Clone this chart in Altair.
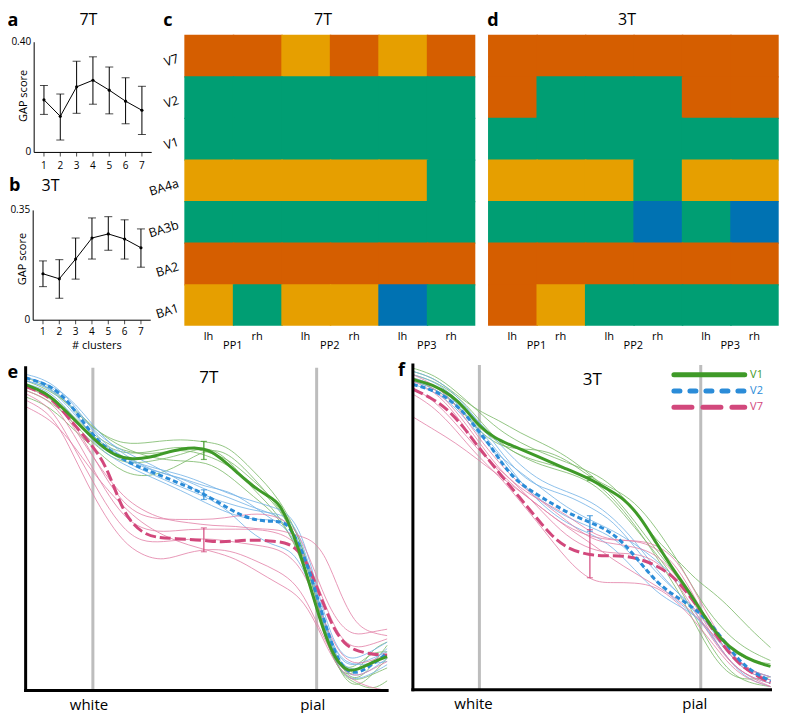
import altair as alt
import pandas as pd

# ------------------------------------------------------------------ data
CLUSTERS = [1, 2, 3, 4, 5, 6, 7]

GAP_7T_MEAN = [0.191, 0.131, 0.238, 0.262, 0.226, 0.186, 0.153]
GAP_7T_LO = [0.138, 0.045, 0.142, 0.175, 0.140, 0.104, 0.065]
GAP_7T_HI = [0.243, 0.212, 0.331, 0.347, 0.310, 0.271, 0.240]
GAP_7T_TICKS = [0, 0.40]
GAP_7T_TICK_LABELS = ["0", "0.40"]

GAP_3T_MEAN = [0.148, 0.132, 0.195, 0.262, 0.275, 0.259, 0.231]
GAP_3T_LO = [0.107, 0.070, 0.131, 0.195, 0.223, 0.195, 0.169]
GAP_3T_HI = [0.189, 0.193, 0.262, 0.326, 0.330, 0.320, 0.291]
GAP_3T_TICKS = [0, 0.35]
GAP_3T_TICK_LABELS = ["0", "0.35"]

AREAS = ["V7", "V2", "V1", "BA4a", "BA3b", "BA2", "BA1"]
HEMIS = ["lh", "rh", "lh", "rh", "lh", "rh"]
PARTICIPANTS = ["PP1", "PP2", "PP3"]
CLUSTER_IDS = [1, 2, 3, 4]
HEAT_7T = [
    [1, 1, 2, 1, 2, 1],
    [3, 3, 3, 3, 3, 3],
    [3, 3, 3, 3, 3, 3],
    [2, 2, 2, 2, 2, 3],
    [3, 3, 3, 3, 3, 3],
    [1, 1, 1, 1, 1, 1],
    [2, 3, 2, 2, 4, 3],
]
HEAT_3T = [
    [1, 1, 1, 1, 1, 1],
    [1, 3, 3, 3, 1, 1],
    [3, 3, 3, 3, 3, 3],
    [2, 2, 2, 3, 2, 2],
    [3, 3, 3, 4, 3, 4],
    [1, 1, 1, 1, 1, 1],
    [1, 2, 3, 3, 3, 3],
]

SERIES = ["V1", "V2", "V7"]
SURFACES = ["white", "pial"]
SURFACE_DEPTH = [18.6, 80.5]

# ---- 7T profiles (depth 0-100, normalised intensity 0-100)
E_V1_X = [0, 3.3, 6.9, 11.4, 15.9, 20.4, 24.9, 29.5, 34.0, 38.5, 43.0, 47.5, 50.5, 53.8,
          58.4, 62.9, 67.4, 70.1, 72.8, 75.5, 78.3, 81.0, 83.7, 86.4, 89.1, 91.8, 95.4, 100]
E_V1_Y = [94.8, 93.3, 91.3, 86.2, 81.2, 76.2, 72.6, 71.6, 72.1, 73.6, 74.9, 75.3, 74.6, 72.2,
          67.7, 63.1, 60.1, 58.1, 52.0, 44.0, 33.9, 23.6, 14.5, 8.5, 6.0, 6.4, 8.5, 10.5]
E_V2_X = [0, 3.3, 6.9, 11.4, 15.9, 20.4, 24.9, 29.5, 34.0, 38.5, 43.0, 47.5, 53.8, 58.4,
          62.9, 67.4, 71.0, 72.8, 75.5, 78.3, 81.0, 83.7, 86.4, 89.1, 92.7, 96.3, 100]
E_V2_Y = [96.9, 95.8, 94.3, 90.3, 83.2, 76.7, 73.1, 70.1, 68.1, 66.1, 64.0, 62.0, 58.0, 54.9,
          52.9, 52.4, 52.4, 50.9, 45.9, 37.8, 27.7, 17.6, 9.5, 5.5, 5.5, 8.5, 11.5]
E_V7_X = [0, 3.3, 6.9, 11.4, 15.9, 20.4, 23.1, 25.8, 28.5, 32.2, 35.8, 41.2, 49.3, 53.8,
          58.4, 62.9, 67.4, 71.9, 74.6, 77.3, 80.0, 82.8, 85.5, 88.2, 90.9, 94.5, 98.1, 100]
E_V7_Y = [94.3, 92.8, 90.8, 85.2, 79.2, 73.1, 67.1, 59.0, 52.9, 48.9, 47.4, 47.1, 46.6, 45.9,
          46.4, 46.7, 46.4, 45.9, 44.3, 40.8, 33.7, 25.6, 18.6, 14.5, 12.5, 11.5, 11.0, 11.0]
E_ERR_X = 49.3
E_ERR_LO = [71.6, 59.2, 43.0]
E_ERR_HI = [77.2, 62.2, 50.4]

E_THIN_V1_X = [0, 7, 14, 20, 27, 35, 43, 50, 56, 63, 70, 76, 80, 84, 88, 92, 96, 100]
E_THIN_V1 = [
    [97, 94, 86, 80, 76, 77, 78, 77, 76, 68, 60, 47, 32, 16, 5, 3, 8, 14],
    [95, 92, 84, 78, 74, 73, 75, 73, 70, 64, 57, 45, 30, 14, 3, 1, 5, 10],
    [93, 90, 82, 75, 70, 71, 73, 76, 72, 62, 55, 42, 27, 12, 4, 6, 13, 15],
    [91, 88, 80, 74, 67, 66, 70, 75, 74, 66, 57, 46, 30, 14, 6, 8, 12, 12],
    [96, 93, 87, 80, 75, 72, 71, 71, 67, 60, 54, 43, 28, 12, 4, 2, 0, 3],
    [94, 91, 84, 77, 73, 74, 76, 74, 72, 65, 58, 48, 30, 13, 4, 3, 5, 7],
]
E_THIN_V2_X = [0, 7, 14, 20, 27, 35, 43, 50, 56, 62, 68, 73, 77, 81, 85, 89, 94, 100]
E_THIN_V2 = [
    [98, 96, 88, 78, 72, 68, 66, 62, 60, 57, 55, 52, 42, 27, 12, 6, 7, 13],
    [97, 95, 86, 76, 71, 67, 63, 60, 56, 49, 45, 44, 38, 25, 12, 4, 5, 10],
    [96, 94, 87, 79, 74, 70, 65, 60, 58, 56, 55, 54, 45, 28, 13, 7, 9, 12],
    [95, 93, 84, 75, 70, 66, 62, 58, 55, 53, 53, 52, 43, 28, 13, 8, 8, 9],
    [97, 95, 89, 80, 73, 68, 66, 63, 62, 58, 53, 50, 40, 24, 10, 3, 4, 8],
    [96, 94, 85, 77, 72, 69, 67, 64, 61, 59, 57, 55, 47, 30, 15, 9, 11, 15],
]
E_THIN_V7_X = [0, 7, 12, 17, 22, 27, 32, 38, 45, 52, 58, 64, 70, 75, 79, 83, 87, 91, 95, 100]
E_THIN_V7 = [
    [95, 92, 85, 76, 66, 58, 54, 53, 53, 53, 54, 55, 54, 50, 40, 28, 20, 17, 18, 19],
    [93, 90, 82, 72, 62, 54, 50, 49, 50, 50, 50, 50, 49, 46, 38, 26, 16, 13, 14, 16],
    [92, 88, 78, 68, 58, 50, 46, 46, 47, 47, 46, 45, 44, 40, 32, 20, 11, 8, 9, 11],
    [90, 86, 76, 64, 54, 46, 42, 40, 43, 44, 43, 40, 37, 33, 25, 15, 7, 4, 6, 9],
    [88, 84, 78, 70, 63, 57, 52, 48, 45, 43, 41, 37, 33, 30, 24, 14, 6, 3, 1, 0],
    [94, 91, 84, 75, 67, 60, 56, 53, 52, 51, 51, 50, 50, 48, 47, 42, 30, 21, 18, 17],
]

# ---- 3T profiles
F_V1_X = [0, 5.5, 11.0, 14.6, 18.3, 22.8, 28.3, 34.7, 42.0, 49.5, 54.8, 58.9, 63.5, 68.0,
          72.6, 77.2, 81.7, 86.3, 90.9, 95.4, 100]
F_V1_Y = [95.5, 94.0, 90.5, 86.5, 81.4, 77.4, 74.9, 71.9, 68.4, 65.0, 61.5, 59.0, 53.4, 45.3,
          37.3, 30.3, 22.3, 15.2, 11.2, 8.7, 7.2]
F_V2_X = [0, 5.0, 9.6, 14.2, 17.8, 21.5, 25.1, 28.8, 34.2, 38.8, 43.4, 49.8, 54.3, 58.9,
          63.5, 68.0, 72.6, 77.2, 81.7, 86.3, 90.9, 95.4, 100]
F_V2_Y = [94.0, 92.5, 90.0, 85.5, 80.4, 75.4, 69.4, 64.4, 60.4, 57.4, 54.4, 51.4, 49.3, 45.3,
          39.3, 33.3, 29.3, 26.3, 22.3, 16.2, 9.2, 5.2, 2.7]
F_V7_X = [0, 5.0, 9.6, 14.2, 17.8, 21.5, 25.1, 29.7, 34.2, 38.8, 43.4, 49.8, 54.3, 58.9,
          63.5, 68.0, 72.6, 77.2, 81.7, 86.3, 90.9, 95.4, 100]
F_V7_Y = [92.5, 90.0, 86.5, 80.9, 75.4, 70.4, 65.4, 59.4, 53.4, 47.3, 43.3, 41.3, 41.3, 41.3,
          40.3, 38.3, 35.3, 29.3, 22.3, 14.2, 8.2, 4.7, 2.2]
F_ERR_X = 49.5
F_ERR_LO = [64.4, 48.8, 34.5]
F_ERR_HI = [65.6, 53.6, 49.3]

F_THIN_X = [0, 6, 12, 18, 24, 30, 36, 43, 50, 56, 62, 68, 74, 79, 84, 89, 94, 100]
F_THIN_V1 = [
    [99, 97, 92, 86, 80, 76, 73, 70, 67, 63, 55, 46, 40, 34, 30, 25, 19, 13],
    [98, 96, 91, 86, 83, 79, 76, 72, 66, 60, 52, 43, 35, 26, 18, 12, 9, 8],
    [97, 95, 91, 84, 76, 72, 69, 67, 64, 58, 50, 42, 33, 22, 12, 5, 2, 1],
    [96, 94, 88, 80, 75, 74, 74, 71, 65, 62, 58, 50, 40, 30, 22, 16, 12, 9],
    [95, 93, 88, 81, 76, 72, 70, 68, 65, 59, 51, 41, 31, 20, 10, 4, 3, 4],
]
F_THIN_V2 = [
    [98, 96, 91, 83, 74, 66, 62, 60, 56, 52, 44, 36, 30, 25, 18, 10, 5, 3],
    [96, 94, 89, 80, 71, 64, 58, 53, 50, 47, 41, 33, 27, 23, 16, 8, 4, 2],
    [94, 92, 87, 79, 72, 67, 62, 56, 52, 49, 45, 40, 34, 27, 19, 11, 6, 4],
    [95, 93, 88, 81, 73, 64, 57, 51, 48, 44, 37, 30, 26, 23, 17, 10, 6, 4],
    [97, 95, 90, 83, 76, 69, 64, 61, 58, 53, 46, 37, 30, 24, 16, 8, 3, 1],
]
F_THIN_V7 = [
    [97, 94, 88, 78, 70, 63, 58, 52, 46, 45, 44, 42, 35, 26, 16, 8, 4, 2],
    [95, 92, 85, 75, 67, 61, 56, 50, 47, 46, 46, 44, 38, 28, 18, 10, 5, 3],
    [93, 89, 82, 74, 68, 62, 55, 47, 43, 42, 42, 40, 33, 24, 15, 8, 4, 1],
    [91, 87, 80, 72, 66, 58, 50, 40, 33, 33, 33, 32, 27, 21, 14, 7, 3, 1],
    [84, 80, 76, 71, 66, 61, 56, 50, 45, 40, 36, 32, 28, 23, 17, 11, 6, 3],
    [96, 93, 86, 77, 68, 62, 58, 54, 48, 46, 46, 45, 40, 30, 20, 11, 6, 4],
]

# ------------------------------------------------------------------ style / layout
W, H = 771, 705
SX = W / 787
SY = H / 721
FONT = "Open Sans"
CLUSTER_COLORS = ["#D55E00", "#E69F00", "#009E73", "#0072B2"]
MAIN = {"V1": "#3F9A28", "V2": "#2B8CD8", "V7": "#D2487C"}
THIN = {"V1": "#79B866", "V2": "#72B1E6", "V7": "#E27FA6"}
DASH = {"V1": None, "V2": [5, 3], "V7": [11, 4]}
LEG_DASH = {"V1": None, "V2": [6, 10], "V7": [18, 11]}


def px(v):
    return v * SX


def py(v):
    return v * SY


class Panel:
    def __init__(self, xdom, xref, ydom, yref):
        self.xdom, self.ydom = xdom, ydom
        self.xs = alt.Scale(domain=xdom, range=[px(xref[0]), px(xref[1])], nice=False, zero=False)
        self.ys = alt.Scale(domain=ydom, range=[py(yref[0]), py(yref[1])], nice=False, zero=False)

    def X(self, f):
        return alt.X(f, type="quantitative", scale=self.xs, axis=None)

    def Y(self, f):
        return alt.Y(f, type="quantitative", scale=self.ys, axis=None)

    def XD(self, v):
        return alt.XDatum(v, type="quantitative", scale=self.xs, axis=None)

    def YD(self, v):
        return alt.YDatum(v, type="quantitative", scale=self.ys, axis=None)


def annot(P, text, xv, yv, xoff=0, yoff=0, **style):
    return alt.Chart(pd.DataFrame({"t": [text]})).mark_text(
        font=FONT, baseline="middle", xOffset=xoff * SX, yOffset=yoff * SY, **style
    ).encode(x=P.XD(xv), y=P.YD(yv), text="t:N")


def one_row():
    return alt.Chart(pd.DataFrame({"v": [0]}))


# ------------------------------------------------------------------ GAP panels
def gap_panel(P, mean, lo, hi, ticks, tick_labels, letter, letter_off, title, title_x,
              title_off, gap_y, tick_dy, xtitle_dy=None):
    x0, x1 = P.xdom
    d = pd.DataFrame({"k": CLUSTERS, "m": mean, "lo": lo, "hi": hi})
    base = alt.Chart(d)
    L = [
        base.mark_rule(color="black", strokeWidth=1).encode(x=P.X("k"), y=P.Y("lo"), y2=alt.Y2("hi")),
        base.mark_tick(orient="horizontal", size=8, thickness=1, color="black").encode(x=P.X("k"), y=P.Y("lo")),
        base.mark_tick(orient="horizontal", size=8, thickness=1, color="black").encode(x=P.X("k"), y=P.Y("hi")),
        base.mark_line(color="black", strokeWidth=1).encode(x=P.X("k"), y=P.Y("m")),
        base.mark_circle(color="black", size=10, opacity=1).encode(x=P.X("k"), y=P.Y("m")),
        one_row().mark_rule(color="black", strokeWidth=1).encode(
            x=P.XD(x0), y=P.YD(0), y2=alt.Y2Datum(ticks[-1])),
        one_row().mark_rule(color="black", strokeWidth=1).encode(
            x=P.XD(x0), x2=alt.X2Datum(x1), y=P.YD(0)),
        base.mark_tick(orient="vertical", size=4, thickness=1, color="black", yOffset=2).encode(
            x=P.X("k"), y=P.YD(0)),
        base.mark_text(font=FONT, fontSize=10, baseline="middle", yOffset=tick_dy * SY).encode(
            x=P.X("k"), y=P.YD(0), text="k:Q"),
        alt.Chart(pd.DataFrame({"v": ticks, "t": tick_labels})).mark_text(
            font=FONT, fontSize=10, align="right", baseline="middle", xOffset=-3).encode(
            x=P.XD(x0), y=P.Y("v"), text="t:N"),
        annot(P, "GAP score", x0, gap_y, xoff=-10, fontSize=11, angle=270),
        annot(P, letter, x0, ticks[-1], letter_off[0], letter_off[1], fontSize=18, fontWeight="bold"),
        annot(P, title, title_x, ticks[-1], 0, title_off, fontSize=16),
    ]
    if xtitle_dy is not None:
        L.append(annot(P, "# clusters", 4.3, 0, 0, xtitle_dy, fontSize=11))
    return alt.layer(*L)


PA = Panel([0.4, 7.6], (26.7, 146.7), [0, 0.40], (147.7, 35))
PB = Panel([0.4, 7.6], (25.7, 145.7), [0, 0.35], (319.3, 207))
panel_a = gap_panel(PA, GAP_7T_MEAN, GAP_7T_LO, GAP_7T_HI, GAP_7T_TICKS, GAP_7T_TICK_LABELS,
                    "a", (-21.7, -21.2), "7T", 3.72, -22.5, 0.205, 13.5)
panel_b = gap_panel(PB, GAP_3T_MEAN, GAP_3T_LO, GAP_3T_HI, GAP_3T_TICKS, GAP_3T_TICK_LABELS,
                    "b", (-19, -25.3), "3T", 1.46, -25.3, 0.195, 12, xtitle_dy=26.5)


# ------------------------------------------------------------------ heatmaps
def heat_panel(P, grid, letter, letter_off, title, title_x, title_off, show_rows):
    ncol, nrow = len(grid[0]), len(grid)
    cells = pd.DataFrame([{"ci": c, "ri": r, "cl": v}
                          for r, row in enumerate(grid) for c, v in enumerate(row)])
    cscale = alt.Scale(domain=CLUSTER_IDS, range=CLUSTER_COLORS)
    L = [
        # each cell reaches slightly into the next (later drawn) cell to avoid seams
        alt.Chart(cells).transform_calculate(
            ci1=f"min(datum.ci + 1.03, {ncol})", ri1=f"min(datum.ri + 1.03, {nrow})")
        .mark_rect(strokeWidth=0).encode(
            x=P.X("ci"), x2=alt.X2("ci1"), y=P.Y("ri"), y2=alt.Y2("ri1"),
            color=alt.Color("cl:N", scale=cscale, legend=None)),
        alt.Chart(pd.DataFrame({"h": HEMIS, "c": list(range(len(HEMIS)))}))
        .transform_calculate(xc="datum.c + 0.5")
        .mark_text(font=FONT, fontSize=11, baseline="middle", yOffset=11.5 * SY)
        .encode(x=P.X("xc"), y=P.YD(7), text="h:N"),
        alt.Chart(pd.DataFrame({"p": PARTICIPANTS, "i": list(range(len(PARTICIPANTS)))}))
        .transform_calculate(xc="2 * datum.i + 1")
        .mark_text(font=FONT, fontSize=11, baseline="middle", yOffset=20.5 * SY)
        .encode(x=P.X("xc"), y=P.YD(7), text="p:N"),
        annot(P, letter, 0, 0, letter_off[0], letter_off[1], fontSize=18, fontWeight="bold"),
        annot(P, title, title_x, 0, 0, title_off, fontSize=16),
    ]
    if show_rows:
        L.append(
            alt.Chart(pd.DataFrame({"a": AREAS, "r": list(range(len(AREAS)))}))
            .transform_calculate(yc="datum.r + 0.5")
            .mark_text(font=FONT, fontSize=12.5, align="right", baseline="middle", angle=343,
                       xOffset=-6 * SX, yOffset=3 * SY)
            .encode(x=P.XD(0), y=P.Y("yc"), text="a:N"))
    return alt.layer(*L)


PC = Panel([0, 6], (180, 477), [0, 7], (27.3, 325))
PD = Panel([0, 6], (490, 786.7), [0, 7], (27.3, 325))
panel_c = heat_panel(PC, HEAT_7T, "c", (-16.7, -13.8), "7T", 2.86, -15.2, True)
panel_d = heat_panel(PD, HEAT_3T, "d", (5, -13.8), "3T", 2.87, -15.2, False)


# ------------------------------------------------------------------ profiles
def traces_df(grid, traces):
    rows = []
    for i, ys in enumerate(traces):
        for x, y in zip(grid, ys):
            rows.append({"x": x, "y": y, "trace": i})
    return pd.DataFrame(rows)


def profile_panel(P, thin, means, err_x, err_lo, err_hi, letter, letter_off, title, title_x,
                  title_off, surf_xoff, legend=False):
    surf = pd.DataFrame({"name": SURFACES, "d": SURFACE_DEPTH})
    L = [alt.Chart(surf).mark_rule(color="#BDBDBD", strokeWidth=3).encode(
        x=P.X("d"), y=P.YD(0), y2=alt.Y2Datum(100))]
    for s in SERIES:
        grid, traces = thin[s]
        L.append(alt.Chart(traces_df(grid, traces)).mark_line(
            color=THIN[s], strokeWidth=1, opacity=0.8, interpolate="basis").encode(
            x=P.X("x"), y=P.Y("y"), detail="trace:N"))
    for s in reversed(SERIES):
        xs, ys = means[s]
        kw = {"strokeDash": DASH[s]} if DASH[s] else {}
        L.append(alt.Chart(pd.DataFrame({"x": xs, "y": ys})).mark_line(
            color=MAIN[s], strokeWidth=3, interpolate="basis", **kw).encode(
            x=P.X("x"), y=P.Y("y")))
    err = pd.DataFrame({"s": SERIES, "lo": err_lo, "hi": err_hi})
    escale = alt.Scale(domain=SERIES, range=[MAIN[s] for s in SERIES])
    L += [
        alt.Chart(err).mark_rule(strokeWidth=1.2).encode(
            x=P.XD(err_x), y=P.Y("lo"), y2=alt.Y2("hi"),
            color=alt.Color("s:N", scale=escale, legend=None)),
        alt.Chart(err).mark_tick(orient="horizontal", size=6, thickness=1.2).encode(
            x=P.XD(err_x), y=P.Y("lo"), color=alt.Color("s:N", scale=escale, legend=None)),
        alt.Chart(err).mark_tick(orient="horizontal", size=6, thickness=1.2).encode(
            x=P.XD(err_x), y=P.Y("hi"), color=alt.Color("s:N", scale=escale, legend=None)),
        one_row().mark_rule(color="black", strokeWidth=3, strokeCap="square").encode(
            x=P.XD(0), y=P.YD(0), y2=alt.Y2Datum(100)),
        one_row().mark_rule(color="black", strokeWidth=3, strokeCap="square").encode(
            x=P.XD(0), x2=alt.X2Datum(100), y=P.YD(0)),
        alt.Chart(surf).mark_text(font=FONT, fontSize=15, baseline="middle",
                                  xOffset=surf_xoff * SX, yOffset=14.5 * SY).encode(
            x=P.X("d"), y=P.YD(0), text="name:N"),
        annot(P, letter, 0, 100, letter_off[0], letter_off[1], fontSize=18, fontWeight="bold"),
        annot(P, title, title_x, 100, 0, title_off, fontSize=17),
    ]
    if legend:
        for i, s in enumerate(SERIES):
            ly = 97 - 5 * i
            kw = {"strokeDash": LEG_DASH[s]} if LEG_DASH[s] else {}
            L.append(one_row().mark_rule(color=MAIN[s], strokeWidth=5, strokeCap="round", **kw)
                     .encode(x=P.XD(73.0), x2=alt.X2Datum(92.8), y=P.YD(ly)))
            L.append(annot(P, s, 94.3, ly, fontSize=11, align="left", color=MAIN[s]))
    return alt.layer(*L)


PE = Panel([0, 100], (18, 387), [0, 100], (698, 368))
PF = Panel([0, 100], (413.3, 778.3), [0, 100], (697.3, 365))

panel_e = profile_panel(
    PE,
    {"V1": (E_THIN_V1_X, E_THIN_V1), "V2": (E_THIN_V2_X, E_THIN_V2), "V7": (E_THIN_V7_X, E_THIN_V7)},
    {"V1": (E_V1_X, E_V1_Y), "V2": (E_V2_X, E_V2_Y), "V7": (E_V7_X, E_V7_Y)},
    E_ERR_X, E_ERR_LO, E_ERR_HI, "e", (-13, 5), "7T", 50.7, 10, -4)
panel_f = profile_panel(
    PF,
    {"V1": (F_THIN_X, F_THIN_V1), "V2": (F_THIN_X, F_THIN_V2), "V7": (F_THIN_X, F_THIN_V7)},
    {"V1": (F_V1_X, F_V1_Y), "V2": (F_V2_X, F_V2_Y), "V7": (F_V7_X, F_V7_Y)},
    F_ERR_X, F_ERR_LO, F_ERR_HI, "f", (-11.6, 6.7), "3T", 50.2, 15, -6, legend=True)

chart = (
    alt.layer(panel_a, panel_b, panel_c, panel_d, panel_e, panel_f)
    .resolve_scale(x="independent", y="independent", color="independent")
    .properties(width=W, height=H, padding=0, autosize=alt.AutoSizeParams(type="none"))
    .configure(font=FONT)
    .configure_view(strokeWidth=0)
)

chart.save("out.html", embed_options={"renderer": "svg", "actions": False})
